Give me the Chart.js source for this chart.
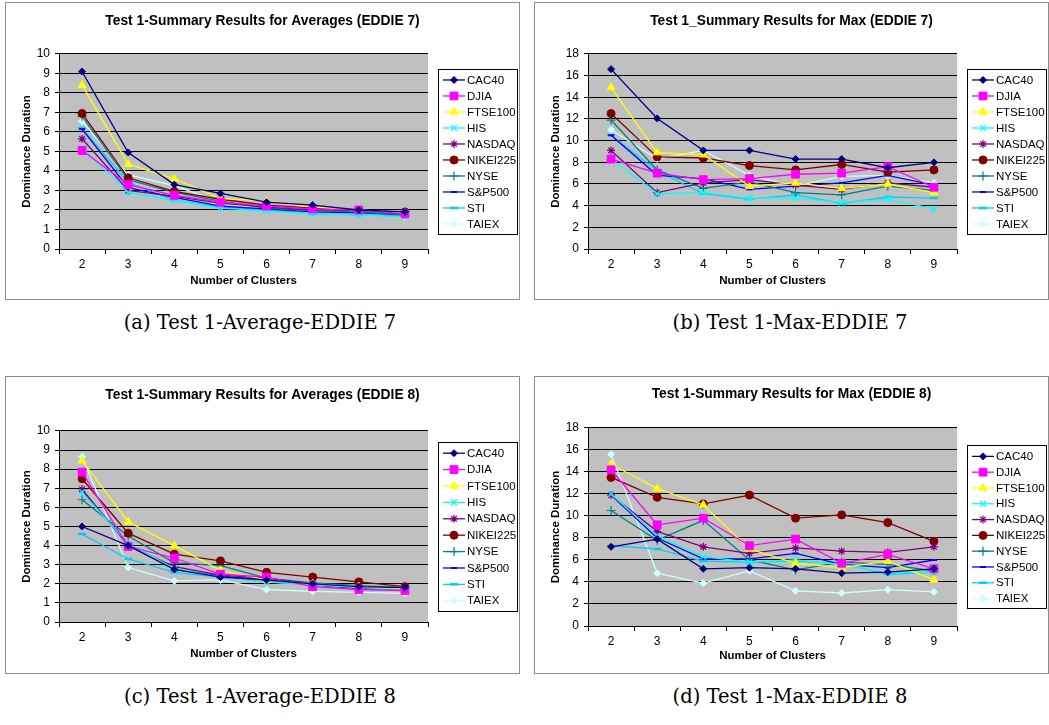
<!DOCTYPE html>
<html>
<head>
<meta charset="utf-8">
<script src="https://cdn.jsdelivr.net/npm/chart.js"></script>
<style>
body{margin:0;background:#fff;width:1049px;height:725px;position:relative;overflow:hidden}
.panel{position:absolute;width:513px;height:296px;border:1px solid #8c8c8c;background:#fff}
.cap{position:absolute;width:520px;text-align:center;font-family:"DejaVu Serif",serif;font-size:19.5px;line-height:22px;color:#000}
</style>
</head>
<body>
<div class="panel" style="left:5px;top:2px"><canvas id="chartA"></canvas></div>
<div class="panel" style="left:534px;top:2px"><canvas id="chartB"></canvas></div>
<div class="panel" style="left:5px;top:376px"><canvas id="chartC"></canvas></div>
<div class="panel" style="left:534px;top:376px"><canvas id="chartD"></canvas></div>
<div class="cap" style="left:0;top:312px">(a) Test 1-Average-EDDIE 7</div>
<div class="cap" style="left:530px;top:312px">(b) Test 1-Max-EDDIE 7</div>
<div class="cap" style="left:0;top:686px">(c) Test 1-Average-EDDIE 8</div>
<div class="cap" style="left:530px;top:686px">(d) Test 1-Max-EDDIE 8</div>

<script>
var clusters = ['2','3','4','5','6','7','8','9'];
var indices = ['CAC40','DJIA','FTSE100','HIS','NASDAQ','NIKEI225','NYSE','S&P500','STI','TAIEX'];

// one row per index, same order as indices
var avgEddie7 = [
	[9.1, 4.95, 3.3, 2.85, 2.4, 2.25, 2.0, 1.9],
	[5.05, 3.3, 2.75, 2.4, 2.2, 2.05, 2.0, 1.8],
	[8.4, 4.35, 3.6, 2.6, 2.45, 2.15, 2.0, 1.85],
	[5.2, 2.9, 2.5, 2.1, 1.95, 1.8, 1.75, 1.65],
	[5.65, 3.0, 2.7, 2.35, 2.15, 2.0, 2.0, 1.8],
	[6.95, 3.65, 2.95, 2.55, 2.25, 2.1, 1.95, 1.9],
	[6.8, 3.55, 2.9, 2.45, 2.1, 1.95, 1.9, 1.75],
	[6.15, 3.15, 2.65, 2.2, 2.05, 1.9, 1.85, 1.75],
	[6.2, 3.4, 2.5, 2.15, 2.0, 1.8, 1.75, 1.7],
	[6.55, 3.8, 3.25, 2.4, 2.0, 1.95, 1.85, 1.65]
];
var maxEddie7 = [
	[16.6, 12.05, 9.1, 9.1, 8.3, 8.3, 7.5, 8.0],
	[8.3, 7.0, 6.4, 6.5, 6.9, 7.0, 7.6, 5.7],
	[14.9, 8.9, 8.7, 5.8, 6.1, 5.6, 6.0, 5.2],
	[8.3, 5.1, 5.2, 4.7, 4.7, 4.3, 4.6, 3.7],
	[9.1, 5.2, 6.1, 6.4, 5.9, 5.5, 6.1, 5.7],
	[12.5, 8.5, 8.4, 7.7, 7.3, 7.8, 7.1, 7.3],
	[11.9, 7.3, 5.6, 6.2, 5.2, 5.0, 5.8, 5.4],
	[10.5, 6.8, 6.5, 5.5, 5.8, 6.1, 6.8, 5.9],
	[10.5, 7.2, 5.1, 4.6, 5.0, 4.2, 4.8, 4.7],
	[11.0, 8.3, 9.1, 6.8, 5.8, 6.7, 6.8, 6.1]
];
var avgEddie8 = [
	[5.0, 4.0, 2.75, 2.35, 2.2, 2.0, 1.85, 1.8],
	[7.85, 3.95, 3.35, 2.5, 2.35, 1.85, 1.7, 1.65],
	[8.45, 5.25, 4.0, 2.7, 2.2, 2.0, 1.85, 1.75],
	[6.8, 4.1, 2.8, 2.35, 2.1, 1.95, 1.8, 1.7],
	[6.95, 4.0, 2.9, 2.45, 2.3, 2.0, 1.8, 1.75],
	[7.5, 4.65, 3.55, 3.2, 2.6, 2.35, 2.1, 1.85],
	[6.4, 4.5, 3.1, 2.95, 2.3, 2.05, 1.9, 1.8],
	[6.85, 4.1, 2.75, 2.4, 2.2, 1.95, 1.75, 1.75],
	[4.6, 3.3, 2.6, 2.35, 2.1, 1.95, 1.75, 1.7],
	[8.65, 2.85, 2.15, 2.2, 1.7, 1.6, 1.55, 1.5]
];
var maxEddie8 = [
	[7.2, 7.9, 5.2, 5.3, 5.2, 4.8, 4.9, 5.2],
	[14.2, 9.2, 9.8, 7.3, 7.9, 5.7, 6.5, 5.2],
	[14.7, 12.5, 11.0, 7.0, 5.7, 5.3, 5.9, 4.2],
	[12.0, 8.2, 6.3, 5.8, 6.0, 5.6, 4.8, 4.9],
	[11.9, 8.6, 7.2, 6.6, 7.1, 6.8, 6.7, 7.2],
	[13.5, 11.7, 11.1, 11.9, 9.8, 10.1, 9.4, 7.7],
	[10.5, 7.8, 9.6, 6.0, 5.1, 5.8, 5.6, 5.0],
	[11.9, 8.0, 6.1, 6.1, 6.6, 5.6, 5.3, 6.0],
	[7.3, 7.0, 5.9, 5.8, 5.9, 5.7, 4.7, 4.9],
	[15.6, 4.8, 3.9, 5.0, 3.2, 3.0, 3.3, 3.1]
];

var looks = [
	{color:'#000080', style:'rectRot', r:3.5, bw:1},
	{color:'#ff00ff', style:'rect', r:5.5, bw:1},
	{color:'#ffff00', style:'triangle', r:4.5, bw:1},
	{color:'#00ffff', style:'crossRot', r:4, bw:1.3},
	{color:'#800080', style:'star', r:4, bw:1.2},
	{color:'#800000', style:'circle', r:4, bw:1},
	{color:'#008080', style:'cross', r:4.5, bw:1.2},
	{color:'#0000ff', style:'line', r:3, bw:2},
	{color:'#00ccff', style:'line', r:4, bw:2.5},
	{color:'#ccffff', style:'rectRot', r:3.5, bw:1}
];

var FONT = 'Arial, "Liberation Sans", sans-serif';

// gray plot area like the old excel charts
var plotBg = {
	id: 'plotBg',
	beforeDraw: function(chart){
		var a = chart.chartArea, ctx = chart.ctx;
		ctx.save();
		ctx.fillStyle = '#c0c0c0';
		ctx.fillRect(a.left, a.top, a.right - a.left, a.bottom - a.top);
		ctx.restore();
	}
};

// boxed legend with line + marker samples
var boxLegend = {
	id: 'boxLegend',
	afterDraw: function(chart, args, opts){
		var a = chart.chartArea, ctx = chart.ctx;
		var n = chart.data.datasets.length;
		var rowH = opts.rowH, w = 79, h = n * rowH + 5;
		var x = a.right + 10;
		var y = (a.top + a.bottom) / 2 - h / 2;
		ctx.save();
		ctx.fillStyle = '#fff';
		ctx.fillRect(x, y, w, h);
		ctx.strokeStyle = '#000';
		ctx.lineWidth = 1;
		ctx.strokeRect(Math.round(x) + 0.5, Math.round(y) + 0.5, w, h);
		ctx.font = '11.5px ' + FONT;
		ctx.textBaseline = 'middle';
		chart.data.datasets.forEach(function(ds, i){
			var cy = y + 3 + rowH * i + rowH / 2;
			ctx.strokeStyle = ds.borderColor;
			ctx.lineWidth = 1.3;
			ctx.beginPath();
			ctx.moveTo(x + 5, cy);
			ctx.lineTo(x + 27, cy);
			ctx.stroke();
			ctx.fillStyle = ds.pointBackgroundColor;
			ctx.strokeStyle = ds.pointBorderColor;
			ctx.lineWidth = ds.pointBorderWidth;
			Chart.helpers.drawPoint(ctx, {pointStyle: ds.pointStyle, radius: ds.pointRadius, borderWidth: ds.pointBorderWidth, rotation: 0}, x + 16, cy);
			ctx.fillStyle = '#000';
			ctx.fillText(ds.label, x + 29, cy + 0.5);
		});
		ctx.restore();
	}
};

function makeChart(id, title, rows, yMax, yStep, plotTop, plotBottom, titleY, xTitleY, rowH){
	var datasets = rows.map(function(vals, i){
		var lk = looks[i];
		return {
			label: indices[i],
			data: vals,
			borderColor: lk.color,
			backgroundColor: lk.color,
			borderWidth: 1.3,
			pointStyle: lk.style,
			pointRadius: lk.r,
			pointHoverRadius: lk.r,
			pointBackgroundColor: lk.color,
			pointBorderColor: lk.color,
			pointBorderWidth: lk.bw,
			tension: 0
		};
	});
	var ctx = document.getElementById(id).getContext('2d');
	return new Chart(ctx, {
		type: 'line',
		data: { labels: clusters, datasets: datasets },
		plugins: [plotBg, boxLegend],
		options: {
			responsive: true,
			maintainAspectRatio: false,
			animation: false,
			layout: { padding: 0 },
			plugins: {
				legend: { display: false },
				tooltip: { enabled: false },
				title: {
					display: true,
					text: title,
					color: '#000',
					font: { family: FONT, size: 13.8, weight: 'bold' },
					padding: { top: titleY - 8.3, bottom: plotTop - titleY - 8.3 }
				},
				boxLegend: { rowH: rowH }
			},
			scales: {
				x: {
					offset: true,
					afterFit: function(s){ s.height = 296 - plotBottom; },
					grid: { offset: true, drawOnChartArea: false, drawTicks: true, tickLength: 5, color: '#000' },
					border: { display: true, color: '#000', width: 1 },
					ticks: { color: '#000', padding: 3, font: { family: FONT, size: 12 } },
					title: {
						display: true,
						text: 'Number of Clusters',
						color: '#000',
						font: { family: FONT, size: 11.5, weight: 'bold' },
						padding: { top: 0, bottom: 296 - xTitleY - 6.9 }
					}
				},
				y: {
					min: 0,
					max: yMax,
					afterFit: function(s){ s.width = 53; },
					grid: { color: '#000', lineWidth: 1, tickLength: 4 },
					border: { display: true, color: '#000', width: 1 },
					ticks: { stepSize: yStep, color: '#000', padding: 5, font: { family: FONT, size: 12 } },
					title: {
						display: true,
						text: 'Dominance Duration',
						color: '#000',
						font: { family: FONT, size: 11.5, weight: 'bold' },
						padding: { top: 14, bottom: 0 }
					}
				},
				// empty right-hand box that keeps room for the legend
				side: {
					position: 'right',
					display: true,
					afterFit: function(s){ s.width = 91; },
					grid: { display: false, drawTicks: false },
					border: { display: false },
					ticks: { display: false }
				}
			}
		}
	});
}

makeChart('chartA', 'Test 1-Summary Results for Averages (EDDIE 7)', avgEddie7, 10, 1, 51, 246, 18, 278, 16);
makeChart('chartB', 'Test 1_Summary Results for Max (EDDIE 7)', maxEddie7, 18, 2, 51, 246, 18, 278, 16);
makeChart('chartC', 'Test 1-Summary Results for Averages (EDDIE 8)', avgEddie8, 10, 1, 54, 245, 18, 277, 16.4);
makeChart('chartD', 'Test 1-Summary Results for Max (EDDIE 8)', maxEddie8, 18, 2, 51, 249, 17, 279, 15.8);
</script>
</body>
</html>
